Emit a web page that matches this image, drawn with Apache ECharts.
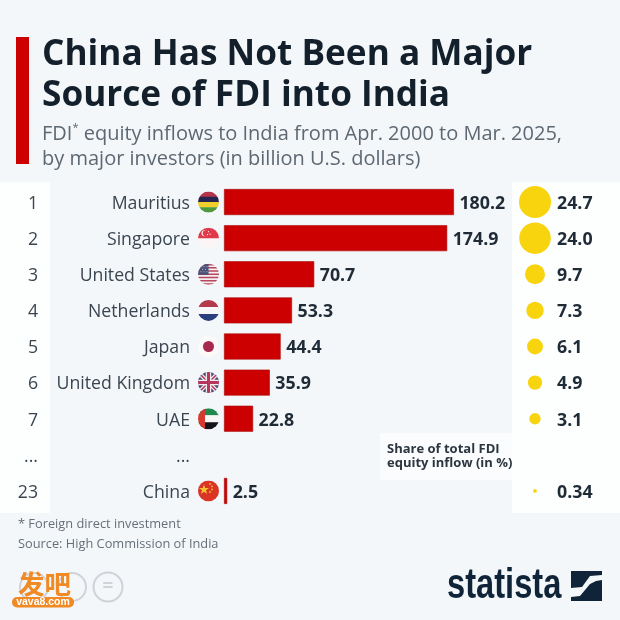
<!DOCTYPE html>
<html><head><meta charset="utf-8">
<style>html,body{margin:0;padding:0;background:#f4f7fa}#c{width:620px;height:620px}</style>
<script src="https://cdn.jsdelivr.net/npm/echarts@6/dist/echarts.min.js"></script>
</head><body><div id="c"></div>
<script>
const ranks = ['1','2','3','4','5','6','7','...','23'];
const countries = ['Mauritius','Singapore','United States','Netherlands','Japan','United Kingdom','UAE','...','China'];
const fdiValues = [180.2,174.9,70.7,53.3,44.4,35.9,22.8,null,2.5];
const shareValues = [24.7,24.0,9.7,7.3,6.1,4.9,3.1,null,0.34];
const shareLabels = ['24.7','24.0','9.7','7.3','6.1','4.9','3.1','','0.34'];
const flagCodes = ['mu','sg','us','nl','jp','uk','ae','','cn'];

const raw = b => 'data:image/svg+xml;utf8,' + encodeURIComponent(
 `<svg xmlns="http://www.w3.org/2000/svg" width="42" height="42" viewBox="0 0 42 42"><defs><clipPath id="k"><circle cx="21" cy="21" r="21"/></clipPath></defs><g clip-path="url(#k)">${b}</g></svg>`);
const stripes = (cols) => cols.map((c,i)=>`<rect x="0" y="${i*42/cols.length}" width="42" height="${42/cols.length+.5}" fill="${c}"/>`).join('');
const flags = {
 mu: raw(stripes(['#b5344a','#25234f','#f0cf2a','#4f9a3c'])),
 sg: raw(`<rect width="42" height="42" fill="#fbf6f5"/><rect width="42" height="21" fill="#e0394a"/><circle cx="13" cy="11" r="6" fill="#fbf6f5"/><circle cx="15.5" cy="11" r="6" fill="#e0394a"/><circle cx="21" cy="8" r="1.2" fill="#fbf6f5"/><circle cx="24" cy="13" r="1.2" fill="#fbf6f5"/><circle cx="19" cy="14" r="1.2" fill="#fbf6f5"/>`),
 us: raw(`<rect width="42" height="42" fill="#f3eef0"/>`+[0,2,4,6,8,10,12].map(i=>`<rect y="${i*3.23}" width="42" height="3.23" fill="#b9475f"/>`).join('')+`<rect width="21" height="22" fill="#4a5176"/><g fill="#dfe0ea"><circle cx="6" cy="6" r="1"/><circle cx="12" cy="6" r="1"/><circle cx="18" cy="6" r="1"/><circle cx="9" cy="11" r="1"/><circle cx="15" cy="11" r="1"/><circle cx="6" cy="16" r="1"/><circle cx="12" cy="16" r="1"/><circle cx="18" cy="16" r="1"/></g>`),
 nl: raw(stripes(['#b23a4c','#f8f6f6','#2b3f7e'])),
 jp: raw(`<rect width="42" height="42" fill="#fdf9f9"/><circle cx="21" cy="21" r="11" fill="#a8294f"/>`),
 uk: raw(`<rect width="42" height="42" fill="#4a4a78"/><path d="M0 0L42 42M42 0L0 42" stroke="#f3eef0" stroke-width="8"/><path d="M0 0L42 42M42 0L0 42" stroke="#b5385c" stroke-width="3"/><path d="M21 0V42M0 21H42" stroke="#f3eef0" stroke-width="11"/><path d="M21 0V42M0 21H42" stroke="#b5385c" stroke-width="6"/>`),
 ae: raw(stripes(['#1f8a4c','#f9f7f6','#15141a'])+`<rect width="14" height="42" fill="#d8392e"/>`),
 cn: raw(`<rect width="42" height="42" fill="#dc3327"/><g fill="#f4c430"><path d="M12 8l2.4 7.2h7.5l-6 4.5 2.3 7.2-6.2-4.5-6.2 4.5 2.3-7.2-6-4.5h7.5z"/><circle cx="24" cy="7" r="1.8"/><circle cx="28" cy="12" r="1.8"/><circle cx="28" cy="18" r="1.8"/><circle cx="24" cy="23" r="1.8"/></g>`)
};

const FONT = '"Open Sans","Noto Sans",sans-serif';
const rich = {n:{fontFamily:FONT,fontSize:17.7,color:'#3a4550',padding:[3.5,8,0,0]}};
flagCodes.forEach(c=>{ if(c) rich[c]={width:21,height:21,backgroundColor:{image:flags[c]}}; });
rich.none={width:21,height:21};
const boldRich = {b:{fontFamily:FONT,fontSize:17.8,fontWeight:700,color:'#1f2b36',padding:[3.5,0,0,0]}};
const rankRich = {r:{fontFamily:FONT,fontSize:17.7,color:'#3a4550',padding:[3.5,0,0,0]}};

const chart = echarts.init(document.getElementById('c'),null,{renderer:'canvas'});
const txt=(x,y,text,o,extra)=>Object.assign({type:'text',x,y,z:10,style:Object.assign({text,fontFamily:FONT,fill:'#666f78',fontSize:12.8,textVerticalAlign:'middle'},o||{})},extra||{});
chart.setOption({
 animation:false,
 backgroundColor:'#f4f7fa',
 title:{
  left:37,top:29,
  text:'China Has Not Been a Major\nSource of FDI into India',
  textStyle:{fontFamily:FONT,fontWeight:700,fontSize:35.2,lineHeight:41,color:'#13202c'},
  subtext:'FDI{sup|*} equity inflows to India from Apr. 2000 to Mar. 2025,\nby major investors (in billion U.S. dollars)',
  subtextStyle:{fontFamily:FONT,fontSize:20,lineHeight:25,color:'#5d6872',rich:{sup:{fontSize:11,color:'#5d6872',verticalAlign:'top',lineHeight:20}}},
  itemGap:6
 },
 grid:[
  {left:224,top:184,width:390,height:325},
  {left:525,top:184,width:20,height:325}
 ],
 xAxis:[
  {gridIndex:0,type:'value',min:0,max:390/1.276,show:false},
  {gridIndex:1,type:'value',min:0,max:1,show:false}
 ],
 yAxis:[
  {gridIndex:0,type:'category',inverse:true,data:countries,position:'left',
   axisLine:{show:false},axisTick:{show:false},splitLine:{show:false},
   axisLabel:{margin:5,align:'right',interval:0,rich,
    formatter:(v,i)=> flagCodes[i]?`{n|${v}}{${flagCodes[i]}|}`:`{n|${v}}{none|}`}},
  {gridIndex:0,type:'category',inverse:true,data:ranks,position:'left',offset:186,
   axisLine:{show:false},axisTick:{show:false},splitLine:{show:false},
   axisLabel:{margin:0,align:'right',interval:0,rich:rankRich,formatter:v=>`{r|${v}}`}},
  {gridIndex:1,type:'category',inverse:true,data:shareLabels,position:'right',
   axisLine:{show:false},axisTick:{show:false},splitLine:{show:false},
   axisLabel:{margin:12,align:'left',interval:0,rich:boldRich,formatter:v=>v?`{b|${v}}`:''}}
 ],
 series:[
  {type:'bar',xAxisIndex:0,yAxisIndex:0,data:fdiValues,barWidth:26,z:3,
   itemStyle:{color:'#cc0000',borderColor:'#a80a0a',borderWidth:0.6},
   label:{show:true,position:'right',distance:5.5,rich:boldRich,
    formatter:p=>p.value==null?'':`{b|${p.value.toFixed(1)}}`}},
  {type:'scatter',xAxisIndex:1,yAxisIndex:2,z:3,
   data:shareValues.map((v,i)=>[0.5,i,v]),
   symbolSize:d=>d[2]==null?0:6.44*Math.sqrt(d[2]),
   itemStyle:{color:'#f8d40f',opacity:1}}
 ],
 graphic:[
  {type:'rect',z:0,shape:{x:0,y:182,width:50,height:331},style:{fill:'#fdfefe'}},
  {type:'rect',z:0,shape:{x:512,y:182,width:108,height:331},style:{fill:'#fdfefe'}},
  {type:'rect',z:0,shape:{x:380,y:433,width:132,height:47},style:{fill:'#fbfcfd'}},
  {type:'rect',z:1,shape:{x:16,y:37,width:13,height:127},style:{fill:'#cc0000'}},
  txt(387,449,'Share of total FDI',{fontSize:13,fontWeight:700,fill:'#2c3640'}),
  txt(387,463,'equity inflow (in %)',{fontSize:13,fontWeight:700,fill:'#2c3640'}),
  txt(18,524,'* Foreign direct investment'),
  txt(18,544,'Source: High Commission of India'),
  {type:'circle',z:2,shape:{cx:34,cy:587,r:14},style:{fill:'none',stroke:'#cfd3d7',lineWidth:2}},
  {type:'circle',z:2,shape:{cx:72,cy:587,r:14},style:{fill:'none',stroke:'#cfd3d7',lineWidth:2}},
  {type:'circle',z:2,shape:{cx:108,cy:587,r:14.5},style:{fill:'none',stroke:'#cfd3d7',lineWidth:2}},
  txt(108,587,'=',{fontSize:19,fontWeight:700,fill:'#cfd3d7',textAlign:'center'}),
  txt(18,584,'发吧',{fontFamily:'"Noto Sans CJK SC"',fontSize:26.5,fontWeight:700,fill:'#f08a24'}),
  {type:'rect',z:9,shape:{x:12,y:597,width:62,height:10.5,r:5},style:{fill:'#f08a24'}},
  txt(43,602.5,'vava8.com',{fontSize:10.5,fontWeight:700,fill:'#ffffff',textAlign:'center',fontFamily:'"Liberation Sans",sans-serif'}),
  txt(0,0,'statista',{fontFamily:'"Liberation Sans","Open Sans",sans-serif',fontSize:43,fontWeight:700,fill:'#0f2438'},{x:447,y:586,scaleX:0.76}),
  {type:'polygon',z:11,shape:{points:[[571,571],[602,571],[602,575],[590,576],[582,587],[571,588]]},style:{fill:'#0f2438'}},
  {type:'polygon',z:11,shape:{points:[[602,580],[602,601],[571,601],[571,597],[580,596],[590,584],[596,581]]},style:{fill:'#0f2438'}}
 ]
});
</script></body></html>
